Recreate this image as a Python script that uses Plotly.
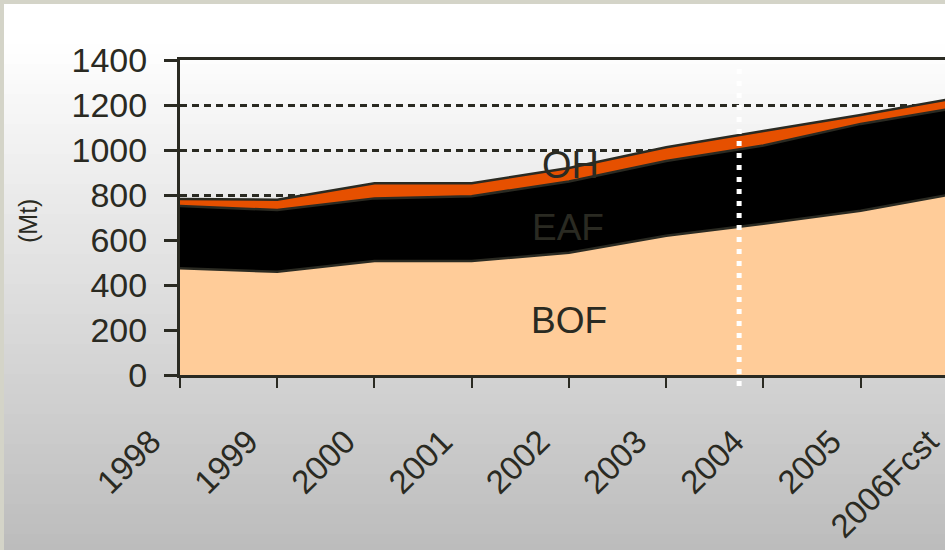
import plotly.graph_objects as go

# Crude steel production by process (Mt)
YEARS = ["1998", "1999", "2000", "2001", "2002", "2003", "2004", "2005", "2006Fcst"]
BOF = [474, 459, 507, 507, 543, 619, 672, 730, 808]
EAF = [277, 274, 278, 288, 317, 332, 348, 386, 380]
OH = [31, 46, 67, 57, 60, 61, 64, 40, 44]
Y_TICKS = [0, 200, 400, 600, 800, 1000, 1200, 1400]

INK = "#2a2a22"
FONT = "Liberation Sans, Arial, sans-serif"

# figure is a bit wider than the window so the last category sits on the cut edge
W, H = 958, 550
ML, MT, MB = 180, 60, 175
PW, PH = W - ML, H - MT - MB

x = list(range(len(YEARS)))

fig = go.Figure()
for name, vals, color in [("BOF", BOF, "#ffcc99"), ("EAF", EAF, "#000000"), ("OH", OH, "#e65000")]:
    fig.add_trace(
        go.Scatter(
            x=x,
            y=vals,
            name=name,
            mode="lines",
            stackgroup="one",
            fillcolor=color,
            line=dict(color=INK, width=2.5),
            hoverinfo="name+y",
        )
    )


def px_x(p):
    return (p - ML) / PW


def px_y(p):
    return (H - MB - p) / PH


# grey gradient background built from thin strips
shapes = []
step = 10
for top in range(4, H, step):
    mid = top + step / 2
    c = 255 if mid < 40 else int(round(255 - (255 - 188) * (mid - 40) / (H - 40)))
    shapes.append(
        dict(
            type="rect", xref="paper", yref="paper", layer="below",
            x0=px_x(4), x1=px_x(W + 5), y0=px_y(top), y1=px_y(top + step + 1),
            fillcolor=f"rgb({c},{c},{c})", line=dict(width=0),
        )
    )

# white dotted marker between 2003 and 2004
shapes.append(
    dict(
        type="line", xref="x", yref="paper", layer="above",
        x0=5.75, x1=5.75, y0=px_y(386), y1=px_y(68),
        line=dict(color="white", width=5, dash="5px,7px"),
    )
)


def label(text, px, py, size, angle=0):
    return dict(
        text=text, x=px_x(px), y=px_y(py), xref="paper", yref="paper",
        xanchor="center", yanchor="middle", showarrow=False, textangle=angle,
        font=dict(size=size, color=INK, family=FONT),
    )


annotations = [
    label("OH", 570, 165, 38),
    label("EAF", 568, 227, 37),
    label("BOF", 569, 320, 37),
    label("(Mt)", 28, 221, 25, -90),
]

fig.update_layout(
    width=W,
    height=H,
    margin=dict(l=ML, r=0, t=MT, b=MB),
    paper_bgcolor="#d4d4c8",
    plot_bgcolor="rgba(0,0,0,0)",
    showlegend=False,
    shapes=shapes,
    annotations=annotations,
    font=dict(family=FONT, color=INK, size=34),
    xaxis=dict(
        range=[0, len(YEARS) - 1 + 0.001],
        tickmode="array",
        tickvals=x,
        ticktext=YEARS,
        tickangle=-45,
        ticks="outside",
        ticklen=10,
        tickwidth=2,
        tickcolor=INK,
        showline=True,
        linecolor=INK,
        linewidth=3,
        mirror=True,
        showgrid=False,
        zeroline=False,
        ticklabelstandoff=21,
        ticklabelshift=-29,
        ticklabeloverflow="allow",
        tickfont=dict(size=33),
    ),
    yaxis=dict(
        range=[0, 1400],
        tickmode="array",
        tickvals=Y_TICKS,
        ticks="outside",
        ticklen=13,
        tickwidth=3,
        tickcolor=INK,
        showline=True,
        linecolor=INK,
        linewidth=3,
        showgrid=True,
        gridcolor=INK,
        gridwidth=2.5,
        griddash="7px,5px",
        zeroline=False,
        ticklabelstandoff=10,
        tickfont=dict(size=34),
    ),
)

fig.write_html(
    "out.html",
    config={"displayModeBar": False},
    post_script="document.body.style.margin='0';document.documentElement.style.overflow='hidden';",
)
